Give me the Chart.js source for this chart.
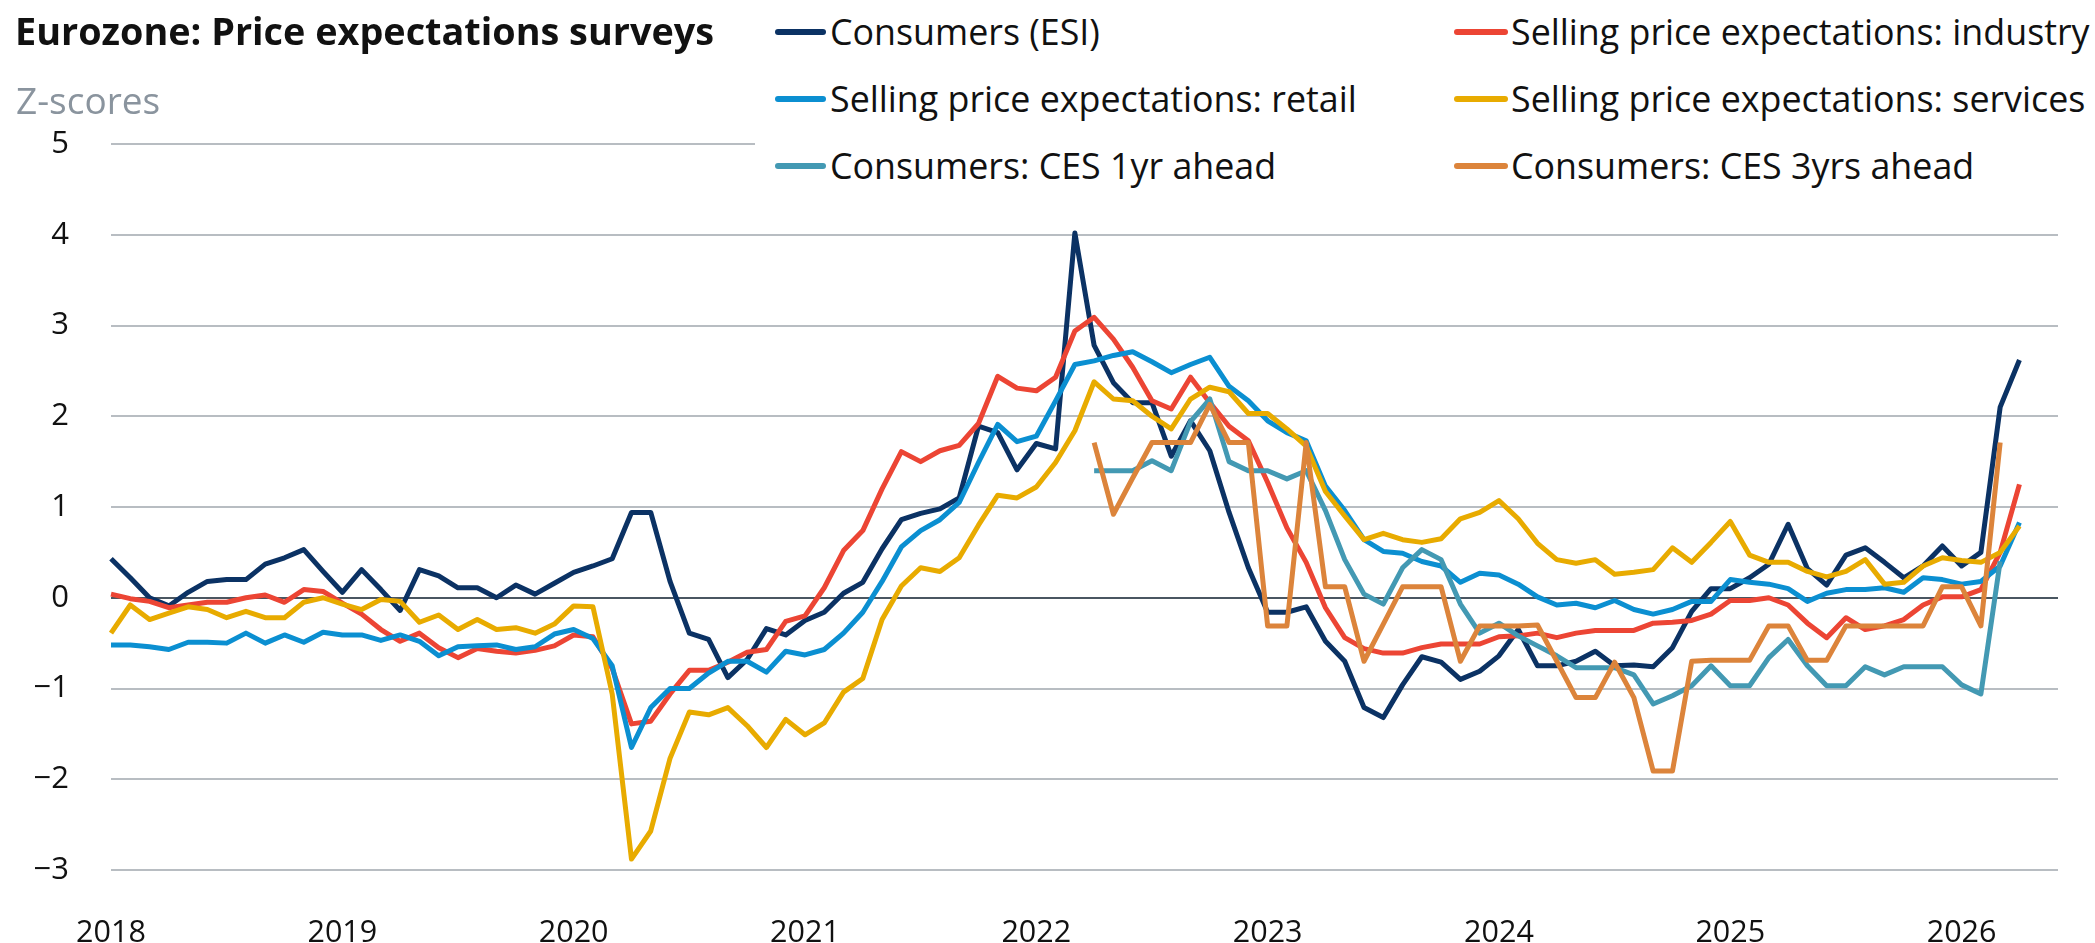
<!DOCTYPE html>
<html>
<head>
<meta charset="utf-8">
<title>Eurozone: Price expectations surveys</title>
<script src="https://cdn.jsdelivr.net/npm/chart.js@4.4.1/dist/chart.umd.min.js"></script>
<style>
  body { margin: 0; background: #fff; }
  #wrap { position: relative; width: 2095px; height: 943px; font-family: 'Open Sans', sans-serif; color: #111; }
  #chart { position: absolute; left: 0; top: 0; }
  #title { position: absolute; left: 15px; top: 12px; font-size: 37.8px; line-height: 38px; font-weight: 700; white-space: nowrap; }
  #unit { position: absolute; left: 16px; top: 81px; font-size: 37px; line-height: 37px; color: #8a949e; white-space: nowrap; }
  #legend { position: absolute; left: 755px; top: 0; width: 1340px; height: 192px; background: #fff; }
  .item { position: absolute; font-size: 35.8px; line-height: 36px; white-space: nowrap; }
  .swatch { position: absolute; width: 52px; height: 6px; border-radius: 3px; }
</style>
</head>
<body>
<div id="wrap">
  <canvas id="chart" width="2095" height="943"></canvas>
  <div id="title">Eurozone: Price expectations surveys</div>
  <div id="unit">Z-scores</div>
  <div id="legend"></div>
</div>
<script>
// monthly, Jan 2018 onwards
var esi = [0.43, 0.22, 0.00, -0.09, 0.06, 0.18, 0.20, 0.20, 0.37, 0.44, 0.53, 0.29,
  0.06, 0.31, 0.09, -0.14, 0.31, 0.24, 0.11, 0.11, 0.00, 0.14, 0.04, 0.16,
  0.28, 0.35, 0.43, 0.94, 0.94, 0.18, -0.39, -0.46, -0.88, -0.68, -0.34, -0.41,
  -0.25, -0.16, 0.05, 0.17, 0.54, 0.86, 0.93, 0.98, 1.10, 1.89, 1.82, 1.41,
  1.70, 1.64, 4.02, 2.78, 2.37, 2.15, 2.15, 1.56, 1.95, 1.62, 0.94, 0.33,
  -0.16, -0.16, -0.10, -0.48, -0.70, -1.21, -1.32, -0.96, -0.65, -0.71, -0.90, -0.81,
  -0.64, -0.35, -0.75, -0.75, -0.70, -0.59, -0.75, -0.74, -0.76, -0.55, -0.15, 0.10,
  0.10, 0.22, 0.37, 0.81, 0.32, 0.14, 0.47, 0.55, 0.39, 0.22, 0.35, 0.57,
  0.35, 0.50, 2.10, 2.62];

var industry = [0.04, -0.01, -0.04, -0.11, -0.08, -0.05, -0.05, 0.00, 0.03, -0.05, 0.09, 0.07,
  -0.06, -0.18, -0.35, -0.48, -0.39, -0.55, -0.66, -0.56, -0.59, -0.61, -0.58, -0.53,
  -0.41, -0.43, -0.78, -1.39, -1.36, -1.06, -0.80, -0.80, -0.71, -0.60, -0.57, -0.26,
  -0.20, 0.11, 0.52, 0.74, 1.20, 1.61, 1.50, 1.62, 1.68, 1.92, 2.44, 2.31,
  2.28, 2.43, 2.94, 3.09, 2.85, 2.54, 2.17, 2.08, 2.43, 2.15, 1.89, 1.73,
  1.27, 0.77, 0.39, -0.11, -0.44, -0.56, -0.61, -0.61, -0.55, -0.51, -0.51, -0.51,
  -0.43, -0.42, -0.39, -0.44, -0.39, -0.36, -0.36, -0.36, -0.28, -0.27, -0.25, -0.18,
  -0.03, -0.03, 0.00, -0.08, -0.28, -0.44, -0.22, -0.35, -0.31, -0.24, -0.08, 0.01,
  0.01, 0.09, 0.50, 1.25];

var retail = [-0.52, -0.52, -0.54, -0.57, -0.49, -0.49, -0.50, -0.39, -0.50, -0.41, -0.49, -0.38,
  -0.41, -0.41, -0.47, -0.41, -0.48, -0.64, -0.54, -0.53, -0.52, -0.57, -0.54, -0.40,
  -0.35, -0.45, -0.75, -1.65, -1.21, -1.00, -1.00, -0.83, -0.70, -0.70, -0.82, -0.59,
  -0.63, -0.57, -0.39, -0.16, 0.18, 0.56, 0.74, 0.86, 1.05, 1.49, 1.91, 1.72,
  1.78, 2.17, 2.57, 2.61, 2.67, 2.71, 2.60, 2.48, 2.57, 2.65, 2.33, 2.17,
  1.95, 1.82, 1.73, 1.23, 0.96, 0.64, 0.51, 0.49, 0.40, 0.35, 0.17, 0.27,
  0.25, 0.15, 0.01, -0.08, -0.06, -0.11, -0.03, -0.13, -0.18, -0.13, -0.04, -0.04,
  0.20, 0.17, 0.15, 0.10, -0.04, 0.05, 0.09, 0.09, 0.11, 0.06, 0.22, 0.20,
  0.15, 0.18, 0.35, 0.83];

var services = [-0.39, -0.08, -0.24, -0.17, -0.10, -0.13, -0.22, -0.15, -0.22, -0.22, -0.05, 0.00,
  -0.07, -0.13, -0.02, -0.04, -0.27, -0.19, -0.35, -0.24, -0.35, -0.33, -0.39, -0.29,
  -0.09, -0.10, -1.06, -2.88, -2.57, -1.77, -1.26, -1.29, -1.21, -1.41, -1.65, -1.34,
  -1.51, -1.38, -1.04, -0.89, -0.24, 0.13, 0.33, 0.29, 0.44, 0.80, 1.13, 1.10,
  1.22, 1.49, 1.84, 2.38, 2.19, 2.17, 2.00, 1.86, 2.19, 2.32, 2.27, 2.03,
  2.03, 1.86, 1.67, 1.17, 0.90, 0.64, 0.71, 0.64, 0.61, 0.65, 0.87, 0.94,
  1.07, 0.87, 0.60, 0.42, 0.38, 0.42, 0.26, 0.28, 0.31, 0.55, 0.39, 0.61,
  0.84, 0.47, 0.39, 0.39, 0.29, 0.23, 0.29, 0.42, 0.15, 0.17, 0.35, 0.44,
  0.41, 0.39, 0.50, 0.79];

// ECB consumer expectations survey starts Apr 2022
var ces1yr = [null, null, null, null, null, null, null, null, null, null, null, null,
  null, null, null, null, null, null, null, null, null, null, null, null,
  null, null, null, null, null, null, null, null, null, null, null, null,
  null, null, null, null, null, null, null, null, null, null, null, null,
  null, null, null, 1.40, 1.40, 1.40, 1.51, 1.40, 1.94, 2.19, 1.50, 1.40,
  1.40, 1.31, 1.40, 0.96, 0.42, 0.04, -0.07, 0.33, 0.53, 0.42, -0.07, -0.39,
  -0.28, -0.42, -0.53, -0.64, -0.77, -0.77, -0.77, -0.85, -1.17, -1.08, -0.97, -0.75,
  -0.97, -0.97, -0.66, -0.46, -0.75, -0.97, -0.97, -0.76, -0.85, -0.76, -0.76, -0.76,
  -0.96, -1.06, 0.40];

var ces3yrs = [null, null, null, null, null, null, null, null, null, null, null, null,
  null, null, null, null, null, null, null, null, null, null, null, null,
  null, null, null, null, null, null, null, null, null, null, null, null,
  null, null, null, null, null, null, null, null, null, null, null, null,
  null, null, null, 1.71, 0.92, 1.32, 1.71, 1.71, 1.71, 2.13, 1.71, 1.71,
  -0.31, -0.31, 1.71, 0.12, 0.12, -0.70, -0.29, 0.12, 0.12, 0.12, -0.70, -0.31,
  -0.31, -0.31, -0.30, -0.70, -1.10, -1.10, -0.71, -1.10, -1.91, -1.91, -0.70, -0.69,
  -0.69, -0.69, -0.31, -0.31, -0.69, -0.69, -0.31, -0.31, -0.31, -0.31, -0.31, 0.12,
  0.12, -0.31, 1.71];

var seriesNames = ['Consumers (ESI)', 'Selling price expectations: industry',
  'Selling price expectations: retail', 'Selling price expectations: services',
  'Consumers: CES 1yr ahead', 'Consumers: CES 3yrs ahead'];
var seriesColors = ['#0b3264', '#ec4534', '#0b8fd1', '#e8ab00', '#4399b3', '#dc843b'];
var seriesData = [esi, industry, retail, services, ces1yr, ces3yrs];

// x axis runs Jan 2018 to Jun 2026, a year label every January
var months = [];
for (var y = 2018; y <= 2026; y++) {
  for (var m = 1; m <= 12; m++) {
    if (months.length < 102) months.push(y + '-' + (m < 10 ? '0' + m : m));
  }
}

var datasets = seriesData.map(function(d, i) {
  return {
    label: seriesNames[i],
    data: d,
    borderColor: seriesColors[i],
    backgroundColor: seriesColors[i],
    borderWidth: 5,
    borderJoinStyle: 'round',
    pointRadius: 0,
    tension: 0,
    spanGaps: false,
    order: seriesData.length - i // later series sit on top
  };
});

new Chart(document.getElementById('chart'), {
  type: 'line',
  data: { labels: months, datasets: datasets },
  options: {
    responsive: false,
    animation: false,
    devicePixelRatio: 1,
    layout: { padding: { top: 144, right: 18, bottom: 0, left: 0 } },
    plugins: { legend: { display: false }, tooltip: { enabled: false } },
    scales: {
      x: {
        type: 'category',
        grid: { display: false },
        border: { display: false },
        ticks: {
          autoSkip: false,
          maxRotation: 0,
          padding: 37,
          color: '#111',
          font: { family: 'Open Sans', size: 30.5 },
          callback: function(v, i) {
            return months[i].slice(5) === '01' ? months[i].slice(0, 4) : '';
          }
        },
        afterFit: function(s) { s.height = 73; }
      },
      y: {
        min: -3,
        max: 5,
        border: { display: false },
        grid: {
          drawTicks: false,
          lineWidth: 2,
          color: function(ctx) { return ctx.tick && ctx.tick.value === 0 ? '#4a5661' : '#b8bdc2'; }
        },
        ticks: {
          stepSize: 1,
          padding: 42,
          color: '#111',
          font: { family: 'Open Sans', size: 31 },
          callback: function(v) { return v < 0 ? '\u2212' + Math.abs(v) : String(v); }
        },
        afterFit: function(s) { s.width = 111; }
      }
    }
  }
});

// legend: two columns, three rows, laid over the top of the plot
var legendCols = [[775, 830], [1454, 1511]];
var legendRows = [13, 80, 147];
var legend = document.getElementById('legend');
seriesNames.forEach(function(name, i) {
  var col = legendCols[i % 2], top = legendRows[Math.floor(i / 2)];
  var sw = document.createElement('span');
  sw.className = 'swatch';
  sw.style.left = (col[0] - 755) + 'px';
  sw.style.top = (top + 15.5) + 'px';
  sw.style.width = (i % 2 ? 54 : 51) + 'px';
  sw.style.background = seriesColors[i];
  legend.appendChild(sw);
  var t = document.createElement('div');
  t.className = 'item';
  t.style.left = (col[1] - 755) + 'px';
  t.style.top = top + 'px';
  t.textContent = name;
  legend.appendChild(t);
});
</script>
</body>
</html>
